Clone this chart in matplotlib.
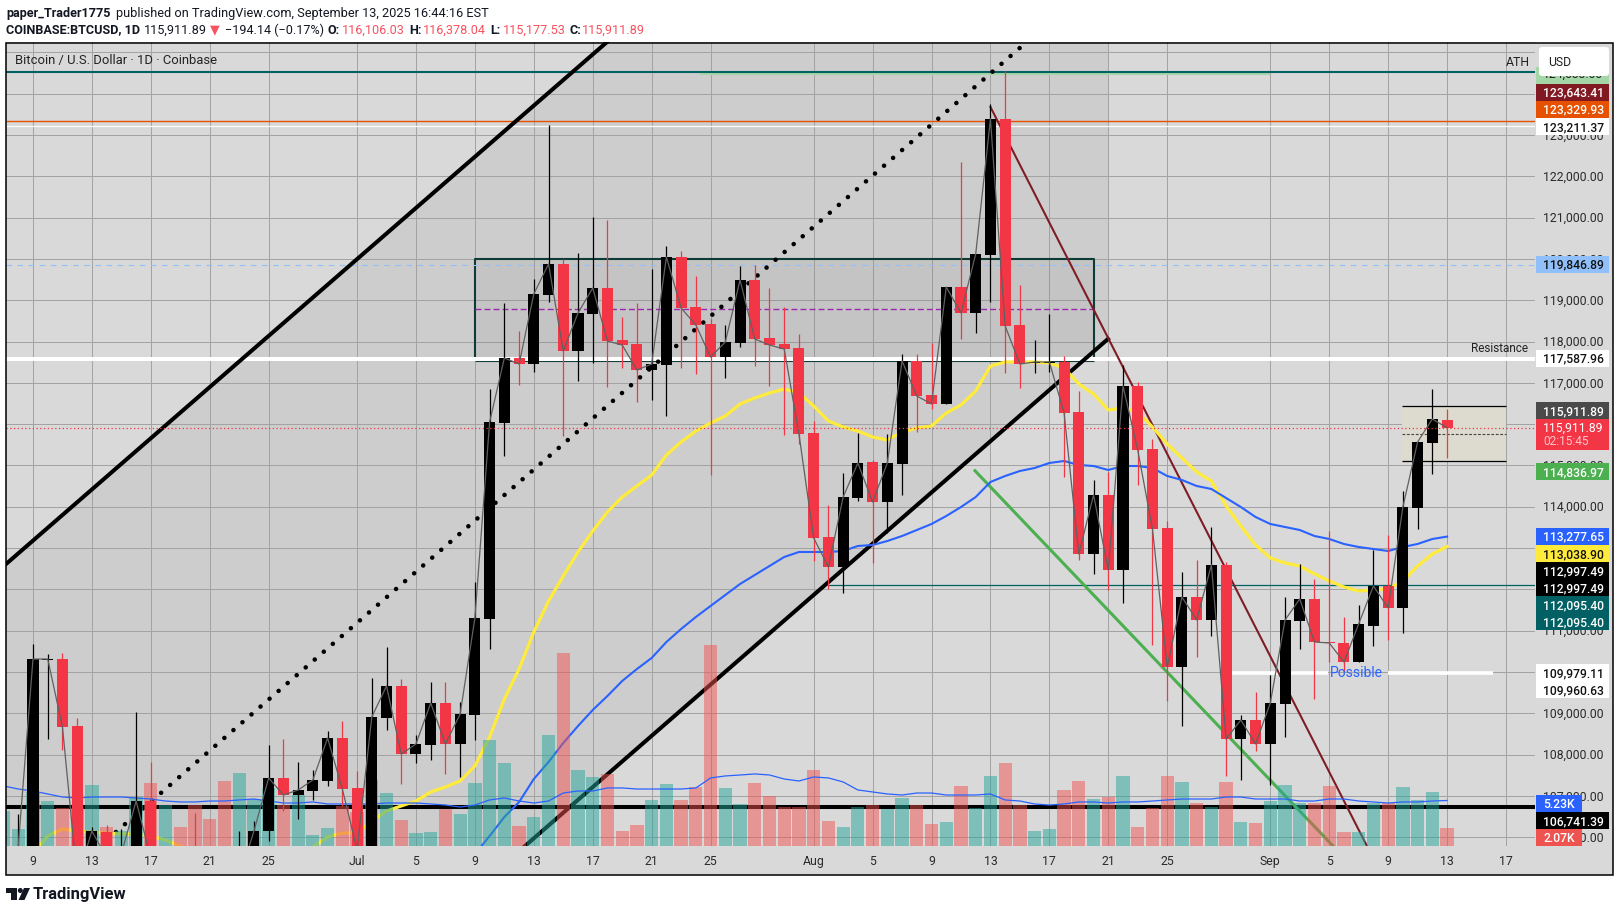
import matplotlib
matplotlib.use('Agg')
import matplotlib.pyplot as plt
from matplotlib.patches import Rectangle, FancyBboxPatch, Polygon, Circle

plt.rcParams['font.family'] = ['Roboto', 'DejaVu Sans']

W, H = 1620, 912
DPI = 100
BG = '#d9d9d9'
UP = '#000000'
DOWN = '#f23645'
VOL_UP = '#26a69a'
VOL_DOWN = '#ef5350'

# pane limits
XLIM = (-1.833, 101.97)
YLIM = (105787, 125252)
VOL_TOP = 92.4

# day numbers count from Jun 9, first candle is Jun 7
first_day = -2
opens = [105000, 105700, 104900, 110300, 110314, 108692, 105600, 106126, 105400, 105500,
         106877, 105000, 105300, 105400, 105000, 104800, 104600, 105000, 106150, 107433,
         107022, 107119, 107361, 108402, 107191, 105700, 108886, 109661, 108014, 108232,
         109249, 108257, 108959, 111283, 116028, 117602, 117456, 119127, 119877, 117771,
         118667, 119296, 118037, 117941, 117311, 117432, 120047, 118836, 118425, 117626,
         117965, 119490, 118086, 117941, 117844, 115786, 113268, 112542, 114212, 115084,
         114115, 115035, 117529, 116706, 116488, 119321, 118691, 120095, 123388, 118401,
         117481, 117481, 117505, 116294, 112856, 114285, 112469, 116924, 115398, 113486,
         110121, 111815, 111259, 112590, 108378, 108838, 108257, 109225, 111234, 111767,
         110726, 110702, 110242, 111113, 112082, 111549, 113970, 115544, 116106.03]
highs = [105300, 106560, 110678, 110435, 110460, 108886, 106247, 106296, 106199, 109031,
         107821, 105500, 105400, 106590, 105300, 105000, 106150, 106390, 108232, 108378,
         107821, 107627, 108571, 108813, 107603, 109854, 110605, 109830, 108474, 109758,
         109758, 109273, 112179, 116851, 118933, 118255, 119514, 123243, 119998, 120144,
         121015, 120943, 118594, 118933, 119756, 120313, 120192, 119587, 118546, 118401,
         119829, 119853, 119296, 118836, 118183, 116076, 114043, 114817, 115786, 115132,
         115762, 117698, 117698, 117965, 119321, 122347, 120119, 123751, 124550, 119369,
         118037, 118667, 117650, 116803, 114648, 114842, 117432, 117021, 115641, 113655,
         112421, 112711, 113510, 112663, 108959, 109515, 109927, 111815, 112614, 112251,
         113413, 111331, 111622, 112953, 113316, 114382, 115568, 116851, 116378.04]
lows = [104700, 105000, 104800, 108378, 108111, 105000, 105300, 105200, 105000, 105300,
        105200, 104800, 104900, 104700, 104700, 104500, 104300, 104800, 105908, 106634,
        106441, 106901, 107240, 106756, 105400, 105300, 108595, 107288, 107797, 107869,
        107530, 107458, 108353, 110556, 115229, 116948, 117263, 118957, 115713, 117045,
        117481, 116900, 117360, 116536, 116585, 116197, 117360, 117214, 114769, 117117,
        117868, 117408, 116924, 115737, 115520, 112687, 112009, 111912, 114140, 112639,
        113365, 114285, 115810, 116367, 116488, 118062, 118207, 118957, 117238, 116875,
        117238, 117263, 114721, 112711, 112372, 111985, 111670, 114527, 110653, 109298,
        108692, 110363, 110871, 107482, 107385, 108087, 107264, 108426, 110556, 109346,
        110242, 110000, 110242, 110629, 110774, 110944, 113462, 114793, 115177.53]
closes = [105200, 105790, 110314, 110314, 108668, 105000, 106150, 105500, 105600, 106877,
          105500, 105300, 105000, 105000, 104800, 104600, 105000, 106150, 107433, 107022,
          107143, 107385, 108402, 107167, 105700, 108910, 109661, 108014, 108257, 109249,
          108257, 108983, 111307, 116052, 117602, 117456, 119151, 119877, 117771, 118691,
          119296, 118013, 117916, 117311, 117456, 120047, 118812, 118401, 117626, 117989,
          119490, 118062, 117916, 117819, 115762, 113244, 112542, 114236, 115060, 114115,
          115060, 117529, 116682, 116488, 119321, 118691, 120119, 123388, 118376, 117456,
          117505, 117505, 116270, 112856, 114285, 112469, 116924, 115374, 113462, 110121,
          111815, 111259, 112590, 108378, 108838, 108257, 109249, 111259, 111767, 110726,
          110702, 110242, 111162, 112082, 111549, 113994, 115568, 116125, 115911.89]
# volume in thousands
volumes = [4.02, 1.95, 6.20, 5.17, 4.37, 4.37, 7.00, 2.18, 1.72, 5.63,
           7.24, 4.71, 2.18, 4.71, 3.10, 7.47, 8.39, 5.40, 6.67, 4.71,
           5.86, 1.26, 2.07, 4.60, 3.90, 7.59, 6.09, 2.99, 1.49, 1.61,
           4.25, 3.68, 7.24, 12.18, 9.54, 2.30, 3.33, 12.76, 22.18, 8.74,
           7.93, 8.28, 1.72, 2.41, 5.29, 7.13, 5.29, 6.78, 23.10, 6.67,
           4.83, 7.24, 5.75, 4.48, 4.48, 8.74, 2.87, 2.18, 4.48, 4.71,
           4.25, 5.52, 4.71, 2.53, 2.76, 6.90, 4.37, 8.05, 9.54, 4.71,
           1.72, 1.95, 6.44, 7.47, 5.40, 5.63, 8.05, 2.18, 4.37, 8.05,
           7.36, 4.94, 4.48, 7.36, 2.76, 2.64, 5.17, 7.00, 4.94, 4.94,
           6.90, 1.61, 1.61, 4.94, 4.94, 6.78, 5.29, 6.21, 2.07]
vol_ma = [6.90, 6.55, 6.32, 5.98, 5.63, 5.52, 5.63, 5.63, 5.63, 5.52,
          5.40, 5.17, 5.06, 5.06, 5.17, 5.17, 5.29, 5.40, 5.17, 4.94,
          4.94, 5.06, 4.83, 4.83, 4.83, 4.83, 4.94, 4.94, 4.94, 4.83,
          4.71, 4.48, 4.71, 5.29, 5.52, 5.17, 4.94, 5.17, 6.09, 6.32,
          6.32, 6.67, 6.67, 6.55, 6.55, 6.55, 6.55, 6.67, 7.82, 8.05,
          8.16, 8.28, 8.16, 7.70, 7.47, 7.93, 7.82, 7.36, 6.44, 6.21,
          5.98, 5.86, 6.09, 6.09, 5.86, 5.86, 5.86, 5.98, 5.29, 5.17,
          4.83, 4.71, 4.83, 5.06, 5.06, 4.94, 5.06, 5.06, 5.17, 5.29,
          5.40, 5.40, 5.40, 5.63, 5.63, 5.40, 5.40, 5.40, 5.17, 5.17,
          5.40, 5.40, 5.17, 5.06, 4.94, 5.06, 5.06, 5.17, 5.23]

# yellow average, from Jun 9
yellow_first = 0
yellow_ma = [105593, 106029, 106199, 106150, 106126, 106102, 106078, 106078, 106029, 105932,
             105787, 105593, 105424, 105279, 105182, 105182, 105279, 105424, 105593, 105763,
             106005, 106102, 106102, 106392, 106634, 106756, 106877, 107094, 107216, 107361,
             107724, 108426, 109346, 110072, 110968, 111719, 112324, 112905, 113413, 113873,
             114236, 114503, 114769, 115253, 115568, 115834, 116028, 116197, 116488, 116633,
             116754, 116851, 116754, 116440, 116076, 115931, 115834, 115689, 115616, 115810,
             115907, 115955, 116270, 116464, 116803, 117408, 117505, 117505, 117505, 117481,
             117360, 116972, 116730, 116343, 116391, 116294, 115931, 115520, 115181, 114842,
             114624, 114019, 113534, 113074, 112760, 112639, 112566, 112372, 112203, 112058,
             111961, 111985, 112009, 112203, 112566, 112856, 113038.90]
# blue average, from Jul 9
blue_first = 30
blue_ma = [105593, 106029, 106489, 106852, 107409, 107821, 108281, 108692, 109080, 109419,
           109782, 110072, 110339, 110726, 111041, 111331, 111598, 111864, 112130, 112348,
           112566, 112784, 112905, 112905, 112905, 112929, 113050, 113074, 113171, 113292,
           113437, 113583, 113776, 113994, 114236, 114600, 114745, 114866, 114939, 115060,
           115108, 115011, 114987, 114890, 114987, 114987, 114939, 114745, 114648, 114503,
           114430, 114212, 113994, 113752, 113583, 113510, 113437, 113292, 113220, 113099,
           113026, 112977, 112929, 113026, 113099, 113220, 113277.65]

# axis ticks
tick_days = [0, 4, 8, 12, 16, 22, 26, 30, 34, 38, 42, 46, 53, 57, 61, 65, 69, 73, 77, 84, 88, 92, 96, 100]
tick_names = ['9', '13', '17', '21', '25', 'Jul', '5', '9', '13', '17', '21', '25',
              'Aug', '5', '9', '13', '17', '21', '25', 'Sep', '5', '9', '13', '17']
price_ticks = list(range(106000, 126000, 1000))

# levels and drawings, in day / price
ath_level = 124533
orange_level = 123329.93
white_top_level = 123211.37
blue_level = 119846.89
resistance = 117587.96
last_price = 115911.89
teal_level = 112095.40
black_level = 106741.39
possible_level = 109979.11
upper_days, upper_prices = [-1.83, 38.97], [112614, 125252]
lower_days, lower_prices = [33.4, 72.98], [105787, 118062]
dotted_days, dotted_prices = [5.63, 67.46], [106126, 125252]
maroon_days, maroon_prices = [65.0, 90.56], [123678, 105787]
green_days, green_prices = [63.95, 88.26], [114873, 105787]
box_days = [30.0, 72.0]
box_prices = [117535, 120000, 118780]
range_days = [92.94, 100.0]
range_prices = [115100, 116432, 115762]


def tag(ox, text, y, bg, fg, right=1609):
    ox.add_patch(Rectangle((1536, y - 8.5), right - 1536, 17, fc=bg, ec='none'))
    ox.text(1543, y, text, color=fg, fontsize=8.7, va='center', ha='left', weight='medium')


fig = plt.figure(figsize=(W / DPI, H / DPI), dpi=DPI, facecolor='white')
rect = [6 / W, 1 - 847 / H, (1535 - 6) / W, 804 / H]
fig.add_artist(Rectangle((6 / W, 1 - 876 / H), 1607 / W, 832 / H, transform=fig.transFigure,
                         fc=BG, ec='none', zorder=0))

ax = fig.add_axes(rect, zorder=1, facecolor=BG)
vax = fig.add_axes(rect, zorder=2, facecolor='none')
cax = fig.add_axes(rect, zorder=3, facecolor='none')
for a in (ax, vax, cax):
    a.set_xlim(*XLIM)
    a.set_ylim(*YLIM)
    for s in a.spines.values():
        s.set_visible(False)
vax.set_ylim(0, VOL_TOP)
vax.axis('off')
cax.axis('off')

ax.yaxis.tick_right()
ax.set_xticks(tick_days, tick_names)
ax.set_yticks(price_ticks, [f'{p:,.2f}' for p in price_ticks])
ax.tick_params(axis='both', length=0, labelsize=8.8, labelcolor='#2a2a2a')
ax.tick_params(axis='x', pad=6)
ax.tick_params(axis='y', pad=5.6)
for t in ax.get_yticklabels():
    t.set_va('center')
ax.set_axisbelow(True)
ax.grid(color='#a3a3a3', lw=0.72)

# channel shading
ax.add_patch(Polygon([(upper_days[0], upper_prices[0]), (upper_days[1], upper_prices[1]),
                      (lower_days[1], upper_prices[1]), (lower_days[1], lower_prices[1]),
                      (lower_days[0], lower_prices[0]), (upper_days[0], lower_prices[0])],
                     fc='#cdcdcd', ec='none', zorder=0.1))
ax.add_patch(Rectangle((box_days[0], box_prices[0]), box_days[1] - box_days[0], box_prices[1] - box_prices[0],
                       fc='black', alpha=0.045, ec='none', zorder=1))
ax.plot([box_days[0], box_days[0], box_days[1], box_days[1]],
        [resistance, box_prices[1], box_prices[1], resistance], color='#0e3b36', lw=1.5, zorder=2)
ax.hlines(box_prices[0], *box_days, color='#0e3b36', lw=0.8, zorder=2)
ax.hlines(box_prices[2], *box_days, color='#9c27b0', lw=1.0, ls=(0, (4.3, 2.2)), zorder=2)

# price range tool
ax.add_patch(Rectangle((range_days[0], range_prices[0]), range_days[1] - range_days[0],
                       range_prices[1] - range_prices[0], fc='#dddbcf', ec='none', zorder=1))
ax.hlines(range_prices[:2], *range_days, color='black', lw=0.9, zorder=2)
ax.hlines(range_prices[2], *range_days, color='#444444', lw=0.8, ls=(0, (2.5, 1.5)), zorder=2)

# horizontal levels
ax.hlines(ath_level, *XLIM, color='#006064', lw=1.5, zorder=3)
ax.hlines(ath_level - 65, 45.3, 84, color='#a5d6a7', lw=1.5, zorder=2.9)
ax.hlines(orange_level, *XLIM, color='#e65100', lw=1.0, zorder=3)
ax.hlines(white_top_level, *XLIM, color='white', lw=0.9, zorder=3)
ax.hlines(blue_level, *XLIM, color='#90bff9', lw=0.8, ls=(0, (5, 5)), zorder=3)
ax.hlines(resistance, *XLIM, color='white', lw=2.9, zorder=3)
ax.hlines(teal_level, 54, XLIM[1], color='#006064', lw=0.9, zorder=3)
ax.hlines(black_level, *XLIM, color='black', lw=2.9, zorder=3)
ax.hlines(possible_level, 81.4, 87.9, color='white', lw=2.6, zorder=3)
ax.hlines(possible_level, 92.0, 99.1, color='white', lw=2.6, zorder=3)

# trend lines
ax.plot(upper_days, upper_prices, color='black', lw=2.9, zorder=4)
ax.plot(lower_days, lower_prices, color='black', lw=2.9, zorder=4)
ax.plot(dotted_days, dotted_prices, color='black', lw=3.3, ls=(0, (0.01, 2.6)),
        dash_capstyle='round', zorder=4)
ax.plot(maroon_days, maroon_prices, color='#7f1d27', lw=1.5, zorder=4)
ax.plot(green_days, green_prices, color='#4caf50', lw=2.2, zorder=4)

# moving averages
ax.plot(range(yellow_first, yellow_first + len(yellow_ma)), yellow_ma, color='#ffeb3b', lw=2.3, zorder=5)
ax.plot(range(blue_first, blue_first + len(blue_ma)), blue_ma, color='#2962ff', lw=1.5, zorder=5)

# volume
days = list(range(first_day, first_day + len(closes)))
rising = [c >= o for o, c in zip(opens, closes)]
vax.bar(days, volumes, width=0.9, color=[VOL_UP if r else VOL_DOWN for r in rising], alpha=0.5, lw=0)
vax.plot(days, vol_ma, color='#2962ff', lw=0.9)

# candles
colors = [UP if r else DOWN for r in rising]
cax.vlines(days, lows, highs, colors=colors, lw=0.9, zorder=2)
cax.bar(days, [abs(c - o) for o, c in zip(opens, closes)], bottom=[min(o, c) for o, c in zip(opens, closes)],
        width=0.75, color=colors, lw=0, zorder=3)
cax.plot(days, closes, color='#606060', lw=0.9, zorder=4)
cax.hlines(last_price, *XLIM, color=DOWN, lw=0.9, ls=(0, (1, 2)), zorder=5)

# everything placed in pixels from here on
ox = fig.add_axes([0, 0, 1, 1], zorder=5, facecolor='none')
ox.set_xlim(0, W)
ox.set_ylim(H, 0)
ox.axis('off')

ox.text(15, 60.5, 'Bitcoin / U.S. Dollar · 1D · Coinbase', fontsize=9.4, color='#222222', va='center')
ox.text(1518, 62.5, 'ATH', fontsize=8.8, color='#222222', va='center', ha='center')
ox.text(1528, 349, 'Resistance', fontsize=8.5, color='#222222', va='center', ha='right')
ox.text(1356, 673, 'Possible', fontsize=10, color='#2962ff', va='center', ha='center')

# this label sits almost fully under the currency box
ox.add_patch(Rectangle((1536, 68), 73, 17, fc='#a5d6a7', ec='none'))
ox.text(1543, 74, '124,533.00', color='#222222', fontsize=8.7, va='center', zorder=2)
ox.add_patch(FancyBboxPatch((1541, 50), 66, 25, boxstyle='round,pad=2,rounding_size=3', fc='white', ec='none',
                            zorder=2.5))
ox.text(1548, 62, 'USD', fontsize=8.8, color='#222222', va='center')
tag(ox, '123,643.41', 93.3, '#801922', 'white')
tag(ox, '123,329.93', 110.3, '#e65100', 'white')
tag(ox, '123,211.37', 127.5, 'white', '#111111')
tag(ox, '119,846.89', 265, '#90bff9', '#111111')
tag(ox, '117,587.96', 359, 'white', '#111111')
tag(ox, '115,911.89', 411.5, '#4a4a4a', 'white')
ox.add_patch(Rectangle((1536, 420), 73, 31, fc=DOWN, ec='none'))
ox.text(1543, 428, '115,911.89', color='white', fontsize=8.7, va='center')
ox.text(1543, 442, '02:15:45', color='#ffc4c8', fontsize=8.6, va='center')
tag(ox, '114,836.97', 472.5, '#4caf50', 'white')
tag(ox, '113,277.65', 537, '#2962ff', 'white')
tag(ox, '113,038.90', 554.5, '#ffeb3b', '#111111')
tag(ox, '112,997.49', 571.5, 'black', 'white')
tag(ox, '112,997.49', 588.5, 'black', 'white')
tag(ox, '112,095.40', 605.5, '#006064', 'white')
tag(ox, '112,095.40', 622.5, '#006064', 'white')
tag(ox, '109,979.11', 673.5, 'white', '#111111')
tag(ox, '109,960.63', 690.5, 'white', '#111111')
tag(ox, '5.23K', 804.5, '#2962ff', 'white', right=1582)
tag(ox, '106,741.39', 821.5, 'black', 'white')
tag(ox, '2.07K', 838.5, '#ef5350', 'white', right=1582)

# outer frame
ox.add_patch(Rectangle((6, 44), 1607, 832, fc='none', ec='black', lw=1.1))

# header
line1 = 13
line2 = 30
ox.text(6, line1, 'paper_Trader1775', fontsize=9.1, weight='bold', color='#131722', va='center')
ox.text(116.5, line1, 'published on TradingView.com, September 13, 2025 16:44:16 EST', fontsize=9.2,
        color='#131722', va='center')
ox.text(6, line2, 'COINBASE:BTCUSD, 1D', fontsize=9.1, weight='bold', color='#131722', va='center')
ox.text(143.5, line2, '115,911.89', fontsize=9.1, color='#131722', va='center')
ox.text(210, line2, '▼', fontsize=9.1, color='#f7525f', va='center')
ox.text(225, line2, '−194.14 (−0.17%)', fontsize=9.1, color='#131722', va='center')
for x_key, key, x_val, val in [(327.5, 'O:', 342, '116,106.03'), (409.5, 'H:', 423, '116,378.04'),
                               (490, 'L:', 503, '115,177.53'), (570, 'C:', 582, '115,911.89')]:
    ox.text(x_key, line2, key, fontsize=9.1, weight='bold', color='#131722', va='center')
    ox.text(x_val, line2, val, fontsize=9.1, color='#f7525f', va='center')

# TradingView mark
ox.add_patch(Polygon([(6, 889), (17, 889), (17, 901), (11, 901), (11, 894), (6, 894)], fc='#131722', ec='none'))
ox.add_patch(Circle((20.3, 891.5), 2.5, fc='#131722', ec='none'))
ox.add_patch(Polygon([(24, 889), (30, 889), (24.5, 901), (18.5, 901)], fc='#131722', ec='none'))
ox.text(33, 895, 'TradingView', fontsize=11.9, weight='bold', color='#131722', va='center')

fig.savefig('out.png', dpi=DPI)
